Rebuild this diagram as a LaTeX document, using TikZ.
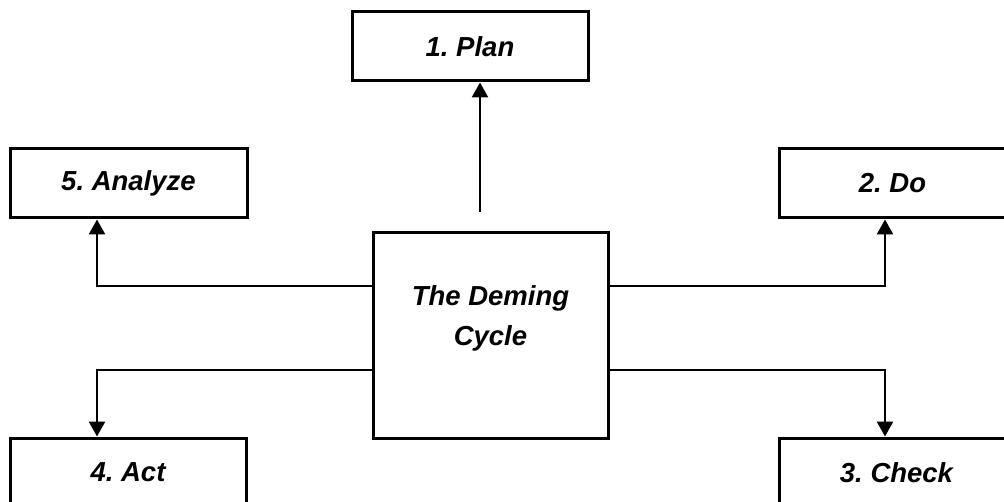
\documentclass[tikz,border=0pt]{standalone}
\usepackage{fontspec}
\setmainfont{Liberation Sans}
\usetikzlibrary{arrows.meta}
\frenchspacing
\begin{document}
\begin{tikzpicture}[x=1pt,y=-1pt,
  lbl/.style={font=\fontsize{27.5}{40}\selectfont\bfseries\itshape},
  box/.style={lbl,draw=black,line width=3pt,rectangle,inner sep=0pt,
    minimum height=69pt},
  conn/.style={draw=black,line width=2.6pt},
  arr/.style={conn,-{Triangle[width=16pt,length=15pt]}}]
\useasboundingbox (0,0) rectangle (1004,502);
\clip (0,0) rectangle (1004,502);
\node[box,minimum width=236pt] (plan) at (470,46.5) {1. Plan};
\node[box,minimum width=237pt] (analyze) at (128.5,183.5) {5. Analyze};
\node[box,minimum width=227pt] (do) at (892.5,183.5) {2. Do};
\node[box,minimum width=236pt] (act) at (128,472.5) {4. Act};
\node[box,minimum width=235pt] (check) at (896.5,472.5) {3. Check};
\node[box,minimum width=235pt,minimum height=205pt] (c) at (490.5,335.5) {};
\node[lbl,align=center,inner sep=0pt] (ctext) at (490.5,318) {\frenchspacing The Deming\\Cycle};
\coordinate (p0) at (480,212);
\draw[arr] (p0) -- (p0 |- plan.south);
\draw[arr] (c.west |- 0,286) -- (97,286) -- (97,0 |- analyze.south);
\draw[arr] (c.east |- 0,286) -- (885,286) -- (885,0 |- do.south);
\draw[arr] (c.west |- 0,370) -- (97,370) -- (97,0 |- act.north);
\draw[arr] (c.east |- 0,370) -- (885,370) -- (885,0 |- check.north);
\end{tikzpicture}
\end{document}
